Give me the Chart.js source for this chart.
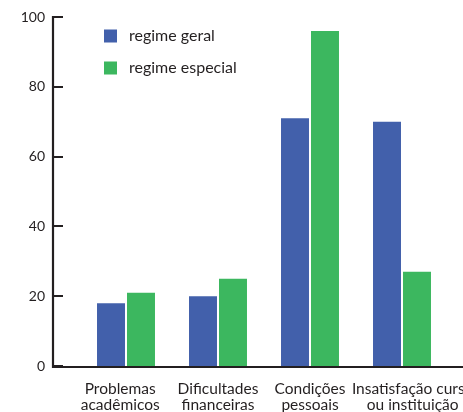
<!DOCTYPE html>
<html>
<head>
<meta charset="utf-8">
<script src="https://cdn.jsdelivr.net/npm/chart.js@4.4.1/dist/chart.umd.min.js"></script>
<style>
  html, body { margin: 0; padding: 0; background: #ffffff; }
  #wrap { width: 463px; height: 412px; position: relative; }
</style>
</head>
<body>
<div id="wrap"><canvas id="c" width="463" height="412"></canvas></div>
<script>
// Motivos de abandono, por regime de acesso (%)
const categories = [
  ['Problemas', 'acadêmicos'],
  ['Dificultades', 'financeiras'],
  ['Condições', 'pessoais'],
  ['Insatisfação curso', 'ou instituição']
];
const seriesNames = ['regime geral', 'regime especial'];
const regimeGeral = [18, 20, 71, 70];
const regimeEspecial = [21, 25, 96, 27];
const yTicks = [0, 20, 40, 60, 80, 100];

const BLUE = '#4260ab';
const GREEN = '#3cb75f';
const INK = '#231f20';
const FONT = 'Lato, "Open Sans", sans-serif';

// Nudge the outer category labels: the first slightly left, the last to the right
const EM = '\u2003', EN = '\u2002', THIN = '\u2009';
function tickText(value, index) {
  const lines = categories[index];
  if (index === 0) return lines.map(s => s + EM);
  if (index === categories.length - 1) return lines.map(s => EM + EN + THIN + s);
  return lines;
}

// Axis lines with inward tick marks, drawn from the scales
const axesPlugin = {
  id: 'axes',
  afterDatasetsDraw(chart) {
    const { ctx, scales } = chart;
    const y = scales.y;
    const axisX = 53;
    const top = y.getPixelForValue(yTicks[yTicks.length - 1]);
    const bottom = y.getPixelForValue(0);
    ctx.save();
    ctx.strokeStyle = INK;
    ctx.lineWidth = 2.2;
    ctx.lineCap = 'butt';
    ctx.beginPath();
    ctx.moveTo(axisX, top - 1);
    ctx.lineTo(axisX, bottom + 1);
    ctx.lineTo(chart.width, bottom + 1);
    ctx.stroke();
    ctx.lineWidth = 2;
    yTicks.forEach(v => {
      const py = Math.round(y.getPixelForValue(v));
      ctx.beginPath();
      ctx.moveTo(axisX, py);
      ctx.lineTo(axisX + 10, py);
      ctx.stroke();
    });
    ctx.restore();
  }
};

// Vertical legend inside the plot area
const legendPlugin = {
  id: 'stackLegend',
  afterDraw(chart) {
    const { ctx } = chart;
    ctx.save();
    ctx.font = '16px ' + FONT;
    ctx.textBaseline = 'middle';
    chart.data.datasets.forEach((ds, i) => {
      const cy = 36 + i * 32;
      ctx.fillStyle = ds.backgroundColor;
      ctx.fillRect(104, cy - 6.5, 13, 13);
      ctx.fillStyle = INK;
      ctx.fillText(ds.label, 129, cy);
    });
    ctx.restore();
  }
};

new Chart(document.getElementById('c'), {
  type: 'bar',
  data: {
    labels: categories,
    datasets: [
      { label: seriesNames[0], data: regimeGeral, backgroundColor: BLUE },
      { label: seriesNames[1], data: regimeEspecial, backgroundColor: GREEN }
    ]
  },
  options: {
    responsive: false,
    animation: false,
    devicePixelRatio: 1,
    layout: { padding: { top: 17, right: 15, bottom: 0, left: 0 } },
    datasets: {
      bar: { categoryPercentage: 0.652, barPercentage: 0.933 }
    },
    plugins: {
      legend: { display: false },
      tooltip: { enabled: false }
    },
    scales: {
      x: {
        grid: { display: false, drawTicks: false },
        border: { display: false },
        ticks: {
          color: INK,
          font: { family: FONT, size: 15.5, lineHeight: 1.03 },
          padding: 15,
          maxRotation: 0,
          autoSkip: false,
          callback: tickText
        },
        afterFit(scale) {
          scale.height = 46;
          scale.paddingLeft = 0;
          scale.paddingRight = 0;
        }
      },
      y: {
        min: 0,
        max: 100,
        grid: { display: false, drawTicks: false },
        border: { display: false },
        afterBuildTicks(scale) { scale.ticks = yTicks.map(v => ({ value: v })); },
        ticks: {
          color: INK,
          font: { family: FONT, size: 14 },
          padding: 35
        },
        afterFit(scale) {
          scale.width = 80;
          scale.paddingTop = 0;
          scale.paddingBottom = 0;
        }
      }
    }
  },
  plugins: [axesPlugin, legendPlugin]
});
</script>
</body>
</html>
